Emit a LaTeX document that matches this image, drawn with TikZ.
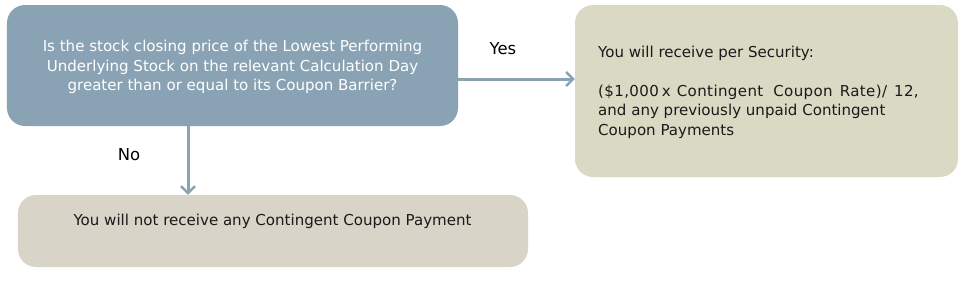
\documentclass[tikz,border=0pt]{standalone}
\usepackage{fontspec}
\setmainfont{DejaVu Sans}
\usetikzlibrary{arrows.meta,positioning}
\definecolor{qblue}{HTML}{8AA3B4}
\definecolor{yesbox}{HTML}{DADAC4}
\definecolor{nobox}{HTML}{D8D4C8}
\definecolor{txt}{HTML}{1A1A1A}
\tikzset{
  box/.style={rounded corners=18bp, inner sep=0pt, draw=none},
  flow/.style={draw=qblue, line width=3bp, -{Straight Barb[length=7bp,width=14bp,line width=2.4bp]}},
  lbl/.style={font=\fontsize{16.5}{18}\selectfont, text=black, inner sep=0pt},
  body/.style={font=\fontsize{15.1}{19.5}\selectfont, inner sep=0pt}
}
\begin{document}
\begin{tikzpicture}[x=1bp,y=-1bp]
\useasboundingbox (0,0) rectangle (965,282);
\node[box, fill=qblue, minimum width=451bp, minimum height=121bp] (q) at (232.5,65.5) {};
\node[body, text=white, align=center] (qt) at (232.5,67) {Is the stock closing price of the Lowest Performing\\Underlying Stock on the relevant Calculation Day\\greater than or equal to its Coupon Barrier?};
\node[box, fill=yesbox, minimum width=383bp, minimum height=172bp] (y) at (766.5,91) {};
\node[body, text=txt, align=left, anchor=north west] (yt) at (598,46) {You will receive per Security:\\[19.5bp]{\addfontfeature{LetterSpace=2.5}(\$1,000\hspace{3bp}x\hspace{6bp}Contingent\hspace{10bp}Coupon\hspace{7bp}Rate)/\hspace{7bp}12,}\\and any previously unpaid Contingent\\Coupon Payments};
\node[box, fill=nobox, minimum width=510bp, minimum height=72bp] (n) at (273,231) {};
\node[body, text=txt] (nt) at (272.5,221) {You will not receive any Contingent Coupon Payment};
\coordinate (qr) at (q.east |- 0,79);
\coordinate (yl) at (y.west |- 0,79);
\coordinate (qb) at (q.south -| 188,0);
\coordinate (nb) at (n.north -| 188,0);
\draw[flow] (qr) -- (yl);
\draw[flow] (qb) -- (nb);
\node[lbl] (yes) at (503,49) {Yes};
\node[lbl] (no) at (129,155) {No};
\end{tikzpicture}
\end{document}
